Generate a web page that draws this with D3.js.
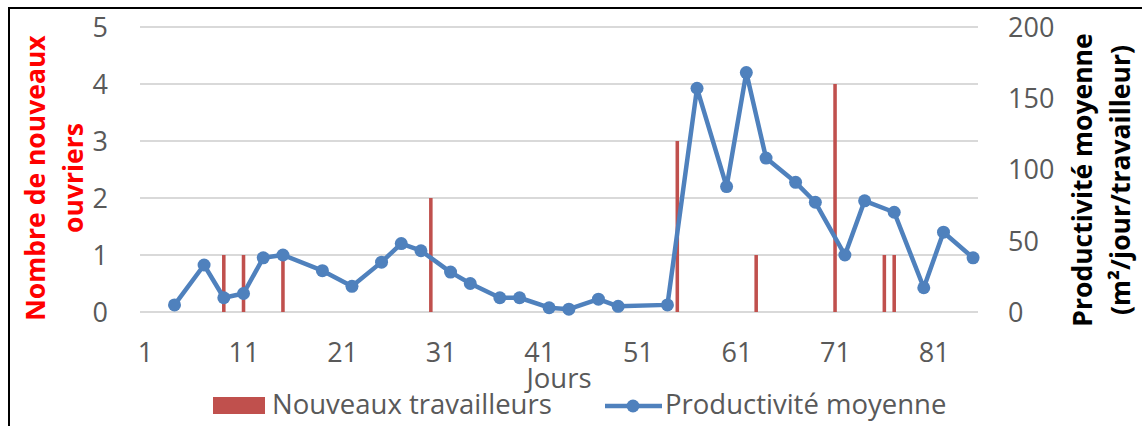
<!DOCTYPE html>
<html>
<head>
<meta charset="utf-8">
<script src="https://cdn.jsdelivr.net/npm/d3@7"></script>
<style>
  html, body { margin: 0; padding: 0; background: #fff; }
  svg { display: block; }
  text { font-family: "Open Sans", Lato, sans-serif; }
</style>
</head>
<body>
<svg id="chart" width="1142" height="426"></svg>
<script>
// Days on which new workers joined, and how many
const hireDays = [9, 11, 15, 30, 55, 63, 71, 76, 77];
const hireCounts = [1, 1, 1, 2, 3, 1, 4, 1, 1];

// Days with a productivity measurement, and the mean productivity (m²/day/worker)
const prodDays = [4, 7, 9, 11, 13, 15, 19, 22, 25, 27, 29, 32, 34, 37, 39, 42, 44, 47, 49, 54,
                  57, 60, 62, 64, 67, 69, 72, 74, 77, 80, 82, 85];
const prodValues = [5, 33, 10, 13, 38, 40, 29, 18, 35, 48, 43, 28, 20, 10, 10, 3, 2, 9, 4, 5,
                    157, 88, 168, 108, 91, 77, 40, 78, 70, 17, 56, 38];

// Axis ticks
const xTicks = [1, 11, 21, 31, 41, 51, 61, 71, 81];
const leftTicks = [0, 1, 2, 3, 4, 5];
const rightTicks = [0, 50, 100, 150, 200];
const dayCount = 85;

const svg = d3.select("#chart");
const plot = { left: 140, right: 978, top: 27, bottom: 312 };

const x = d3.scaleLinear().domain([0.5, dayCount + 0.5]).range([plot.left, plot.right]);
const yLeft = d3.scaleLinear().domain([0, 5]).range([plot.bottom, plot.top]);
const yRight = d3.scaleLinear().domain([0, 200]).range([plot.bottom, plot.top]);
const band = (plot.right - plot.left) / dayCount;

const grey = "#595959";
const red = "#C0504D";
const blue = "#4F81BD";
const tickSize = 27;
const labelSize = 27.5;
const titleSize = 26.5;

// Outer frame
svg.append("rect")
  .attr("x", 9).attr("y", 8)
  .attr("width", 1200).attr("height", 500)
  .attr("fill", "none").attr("stroke", "#000").attr("stroke-width", 2);

// Horizontal gridlines
svg.append("g")
  .selectAll("line")
  .data(leftTicks)
  .join("line")
  .attr("x1", plot.left).attr("x2", plot.right)
  .attr("y1", d => yLeft(d)).attr("y2", d => yLeft(d))
  .attr("stroke", "#D9D9D9").attr("stroke-width", 2);

// Left axis
const leftAxis = svg.append("g")
  .attr("transform", `translate(${plot.left - 32},0)`)
  .call(d3.axisLeft(yLeft).tickValues(leftTicks).tickFormat(d3.format("d")).tickSize(0).tickPadding(0));
leftAxis.select(".domain").remove();
leftAxis.selectAll("text").attr("fill", grey).attr("font-size", tickSize).attr("dy", "0.35em");

// Right axis
const rightAxis = svg.append("g")
  .attr("transform", `translate(${plot.right + 30},0)`)
  .call(d3.axisRight(yRight).tickValues(rightTicks).tickFormat(d3.format("d")).tickSize(0).tickPadding(0));
rightAxis.select(".domain").remove();
rightAxis.selectAll("text").attr("fill", grey).attr("font-size", tickSize).attr("dy", "0.35em");

// Bottom axis
const bottomAxis = svg.append("g")
  .attr("transform", `translate(0,${plot.bottom + 26})`)
  .call(d3.axisBottom(x).tickValues(xTicks).tickFormat(d3.format("d")).tickSize(0).tickPadding(0));
bottomAxis.select(".domain").remove();
bottomAxis.selectAll("text").attr("fill", grey).attr("font-size", tickSize).attr("dy", "0.9em");

// Bars: new workers
svg.append("g")
  .selectAll("rect")
  .data(hireDays.map((d, i) => ({ day: d, n: hireCounts[i] })))
  .join("rect")
  .attr("x", d => x(d.day) - band * 0.18)
  .attr("width", band * 0.36)
  .attr("y", d => yLeft(d.n))
  .attr("height", d => yLeft(0) - yLeft(d.n))
  .attr("fill", red);

// Line: mean productivity
const prod = prodDays.map((d, i) => ({ day: d, v: prodValues[i] }));
svg.append("path")
  .datum(prod)
  .attr("d", d3.line().x(d => x(d.day)).y(d => yRight(d.v)))
  .attr("fill", "none").attr("stroke", blue).attr("stroke-width", 4.5)
  .attr("stroke-linejoin", "round");
svg.append("g")
  .selectAll("circle")
  .data(prod)
  .join("circle")
  .attr("cx", d => x(d.day)).attr("cy", d => yRight(d.v))
  .attr("r", 6.5).attr("fill", blue);

// Axis titles
const leftTitle = svg.append("text")
  .attr("transform", "translate(45,178) rotate(-90)")
  .attr("text-anchor", "middle").attr("fill", "#FF0000")
  .attr("font-size", titleSize).attr("font-weight", "bold");
leftTitle.append("tspan").attr("x", 0).attr("y", 0).text("Nombre de nouveaux");
leftTitle.append("tspan").attr("x", 0).attr("y", 38).text("ouvriers");

const rightTitle = svg.append("text")
  .attr("transform", "translate(1092,180) rotate(-90)")
  .attr("text-anchor", "middle").attr("fill", "#000")
  .attr("font-size", titleSize).attr("font-weight", "bold");
rightTitle.append("tspan").attr("x", 0).attr("y", 0).text("Productivité moyenne");
rightTitle.append("tspan").attr("x", 0).attr("y", 38).text("(m²/jour/travailleur)");

svg.append("text")
  .attr("x", (plot.left + plot.right) / 2).attr("y", 388)
  .attr("text-anchor", "middle").attr("fill", grey).attr("font-size", labelSize)
  .text("Jours");

// Legend
const legend = svg.append("g");
legend.append("rect")
  .attr("x", 213).attr("y", 397).attr("width", 52).attr("height", 17)
  .attr("fill", red);
legend.append("text")
  .attr("x", 272).attr("y", 414).attr("fill", grey).attr("font-size", labelSize)
  .text("Nouveaux travailleurs");
legend.append("line")
  .attr("x1", 605).attr("x2", 662).attr("y1", 406).attr("y2", 406)
  .attr("stroke", blue).attr("stroke-width", 4.5);
legend.append("circle")
  .attr("cx", 633).attr("cy", 406).attr("r", 6.5).attr("fill", blue);
legend.append("text")
  .attr("x", 665).attr("y", 414).attr("fill", grey).attr("font-size", labelSize)
  .text("Productivité moyenne");
</script>
</body>
</html>
